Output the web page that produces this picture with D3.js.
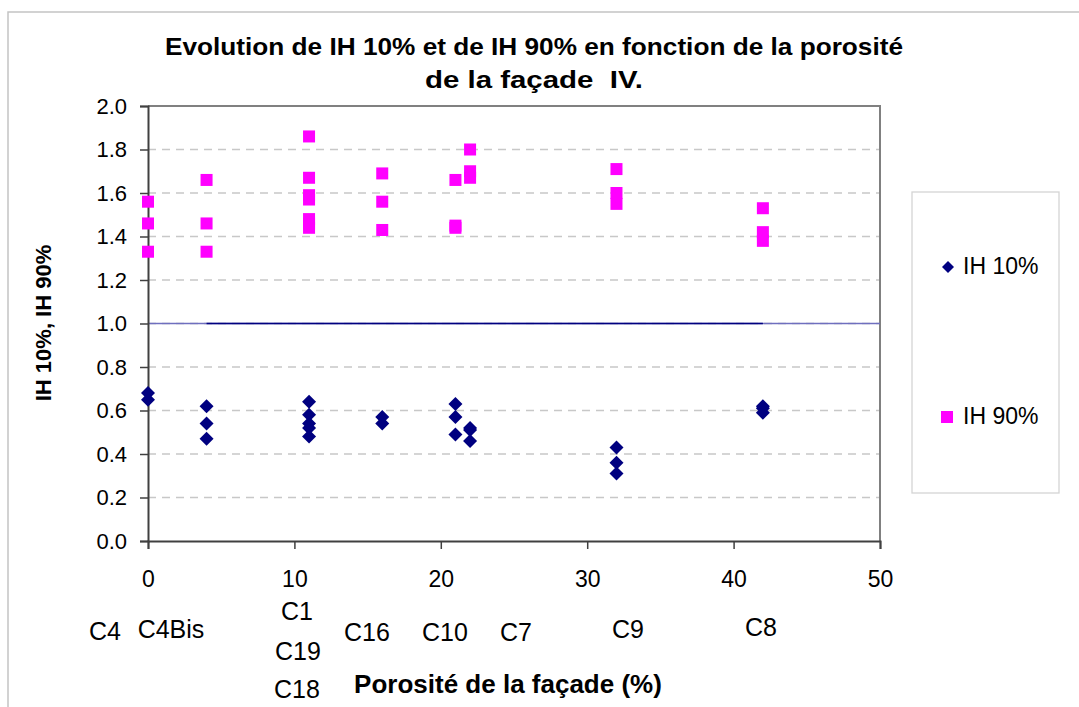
<!DOCTYPE html>
<html>
<head>
<meta charset="utf-8">
<script src="https://cdn.jsdelivr.net/npm/d3@7"></script>
<style>
  html, body { margin: 0; padding: 0; background: #fff; }
  svg { display: block; font-family: "Liberation Sans", Arial, sans-serif; }
  text { white-space: pre; }
</style>
</head>
<body>
<svg id="chart" width="1079" height="707"></svg>
<script>
// ---------- data ----------
const titleLines = ["Evolution de IH 10% et de IH 90% en fonction de la porosité", "de la façade  IV."];
const xAxisTitle = "Porosité de la façade (%)";
const yAxisTitle = "IH 10%, IH 90%";
const seriesNames = ["IH 10%", "IH 90%"];
const xTicks = [0, 10, 20, 30, 40, 50];
const yTicks = [0, 0.2, 0.4, 0.6, 0.8, 1.0, 1.2, 1.4, 1.6, 1.8, 2.0];

// IH 10% points: porosity, value
const ih10Porosity = [0, 0, 4, 4, 4, 11, 11, 11, 11, 11, 16, 16, 21, 21, 21, 22, 22, 22, 32, 32, 32, 42, 42, 42];
const ih10Values   = [0.68, 0.65, 0.62, 0.54, 0.47, 0.64, 0.58, 0.54, 0.52, 0.48, 0.57, 0.54, 0.63, 0.57, 0.49, 0.52, 0.51, 0.46, 0.43, 0.36, 0.31, 0.62, 0.61, 0.59];

// IH 90% points: porosity, value
const ih90Porosity = [0, 0, 0, 4, 4, 4, 11, 11, 11, 11, 11, 11, 11, 16, 16, 16, 21, 21, 21, 22, 22, 22, 32, 32, 32, 42, 42, 42];
const ih90Values   = [1.56, 1.46, 1.33, 1.66, 1.46, 1.33, 1.86, 1.67, 1.59, 1.57, 1.48, 1.46, 1.44, 1.69, 1.56, 1.43, 1.66, 1.45, 1.44, 1.80, 1.70, 1.67, 1.71, 1.60, 1.55, 1.53, 1.42, 1.38];

// reference line IH = 1
const refLineX = [4, 42];
const refLineValue = 1.0;

// case labels under the axis
const caseLabels = ["C4", "C4Bis", "C1", "C19", "C18", "C16", "C10", "C7", "C9", "C8"];

// ---------- layout ----------
const svg = d3.select("#chart");
const plot = { left: 148, right: 880, top: 106, bottom: 541 };
const x = d3.scaleLinear().domain([0, 50]).range([plot.left, plot.right]);
const y = d3.scaleLinear().domain([0, 2]).range([plot.bottom, plot.top]);

const navy = "#000080", magenta = "#ff00ff";

// outer frame
svg.append("rect").attr("x", 8).attr("y", 12).attr("width", 1100).attr("height", 720)
  .attr("fill", "#fff").attr("stroke", "#c4c4c4").attr("stroke-width", 1.5);

// gridlines
svg.append("g").selectAll("line").data(yTicks.filter(d => d > 0 && d < 2)).join("line")
  .attr("x1", plot.left).attr("x2", plot.right)
  .attr("y1", d => y(d)).attr("y2", d => y(d))
  .attr("stroke", "#c8c8c8").attr("stroke-width", 1.3).attr("stroke-dasharray", "8,6");

// plot border top/right
svg.append("path")
  .attr("d", `M${plot.left},${plot.top}H${plot.right}V${plot.bottom}`)
  .attr("fill", "none").attr("stroke", "#808080").attr("stroke-width", 2);

// reference line at 1.0 (faint full width + dark segment)
svg.append("line").attr("x1", x(0)).attr("x2", x(50))
  .attr("y1", y(refLineValue)).attr("y2", y(refLineValue))
  .attr("stroke", "#6f6fbf").attr("stroke-width", 1.6);
svg.append("line").attr("x1", x(refLineX[0])).attr("x2", x(refLineX[1]))
  .attr("y1", y(refLineValue)).attr("y2", y(refLineValue))
  .attr("stroke", navy).attr("stroke-width", 1.6);

// axes
const yAxis = d3.axisLeft(y).tickValues(yTicks).tickFormat(d3.format(".1f")).tickSize(8).tickPadding(13);
const gy = svg.append("g").attr("transform", `translate(${plot.left},0)`).call(yAxis);
gy.attr("font-size", null).attr("font-family", null);
gy.select(".domain").attr("stroke", "#404040").attr("stroke-width", 2);
gy.selectAll(".tick line").attr("stroke", "#404040").attr("stroke-width", 1.5);
gy.selectAll(".tick text").attr("font-size", 22).attr("fill", "#000");

const xAxis = d3.axisBottom(x).tickValues(xTicks).tickFormat(d3.format("d")).tickSize(8).tickPadding(18);
const gx = svg.append("g").attr("transform", `translate(0,${plot.bottom})`).call(xAxis);
gx.attr("font-size", null).attr("font-family", null);
gx.select(".domain").attr("stroke", "#404040").attr("stroke-width", 2);
gx.selectAll(".tick line").attr("stroke", "#404040").attr("stroke-width", 1.5);
gx.selectAll(".tick text").attr("font-size", 23).attr("fill", "#000").attr("dy", null).attr("y", 46);

// markers
const diamondPath = s => `M0,${-s}L${s},0L0,${s}L${-s},0Z`;
const ih10 = ih10Porosity.map((p, i) => ({ p, v: ih10Values[i] }));
const ih90 = ih90Porosity.map((p, i) => ({ p, v: ih90Values[i] }));

svg.append("g").selectAll("rect").data(ih90).join("rect")
  .attr("x", d => x(d.p) - 6).attr("y", d => y(d.v) - 6)
  .attr("width", 12).attr("height", 12).attr("fill", magenta);

svg.append("g").selectAll("path").data(ih10).join("path")
  .attr("transform", d => `translate(${x(d.p)},${y(d.v)})`)
  .attr("d", diamondPath(7)).attr("fill", navy);

// title
const titleWidths = [738, 218];
svg.append("g").selectAll("text").data(titleLines).join("text")
  .attr("x", 534).attr("y", (d, i) => 55 + i * 33)
  .attr("text-anchor", "middle").attr("font-weight", "bold").attr("font-size", 24)
  .attr("textLength", (d, i) => titleWidths[i]).attr("lengthAdjust", "spacingAndGlyphs")
  .text(d => d);

// axis titles
svg.append("text").attr("x", 508).attr("y", 693).attr("text-anchor", "middle")
  .attr("font-weight", "bold").attr("font-size", 26).text(xAxisTitle);
svg.append("text").attr("transform", "translate(51,323) rotate(-90)").attr("text-anchor", "middle")
  .attr("font-weight", "bold").attr("font-size", 22).text(yAxisTitle);

// case labels
const casePos = [[105, 640], [171, 638], [297, 620], [298, 660], [297, 698], [367, 641], [445, 641], [516, 641], [628, 638], [761, 636]];
svg.append("g").selectAll("text").data(caseLabels).join("text")
  .attr("x", (d, i) => casePos[i][0]).attr("y", (d, i) => casePos[i][1])
  .attr("text-anchor", "middle").attr("font-size", 25).text(d => d);

// legend
const lg = svg.append("g");
lg.append("rect").attr("x", 912).attr("y", 192).attr("width", 147).attr("height", 301)
  .attr("fill", "#fff").attr("stroke", "#d4d4d4").attr("stroke-width", 1.3);
lg.append("path").attr("transform", "translate(948,267)").attr("d", diamondPath(6)).attr("fill", navy);
lg.append("rect").attr("x", 941).attr("y", 411).attr("width", 12).attr("height", 12).attr("fill", magenta);
lg.selectAll("text.lt").data(seriesNames).join("text").attr("class", "lt")
  .attr("x", 963).attr("y", (d, i) => 274 + i * 150).attr("font-size", 23).text(d => d);
</script>
</body>
</html>
